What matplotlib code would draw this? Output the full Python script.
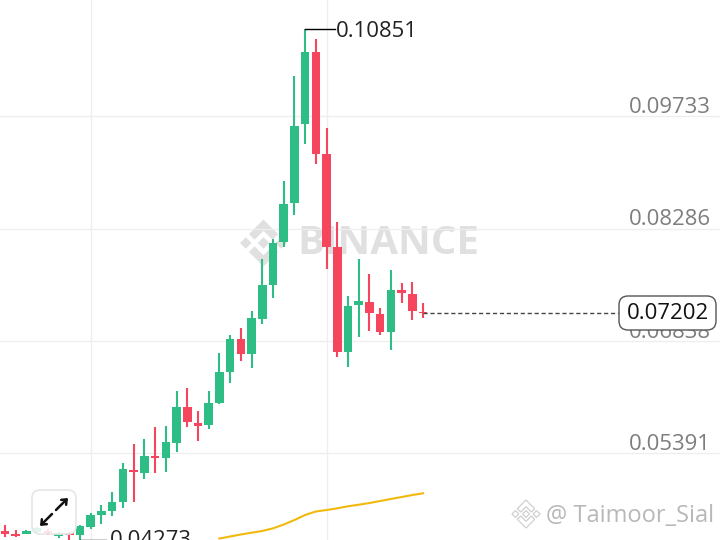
import matplotlib.pyplot as plt
import numpy as np
from matplotlib.patches import FancyBboxPatch, Polygon

plt.rcParams['font.family'] = ['Open Sans', 'DejaVu Sans']

# Candle values
opens = [0.04397, 0.04354, 0.04358, 0.04384, 0.04393, 0.04328, 0.04361, 0.04345, 0.04448, 0.04602,
         0.04650, 0.04770, 0.05178, 0.05143, 0.05354, 0.05332, 0.05529, 0.05985, 0.05787, 0.05757,
         0.06036, 0.06443, 0.06860, 0.06667, 0.07125, 0.07563, 0.08112, 0.08610, 0.09627, 0.10561,
         0.09241, 0.08048, 0.06696, 0.07297, 0.07344, 0.07189, 0.06950, 0.07498, 0.07443, 0.07215]
closes = [0.04354, 0.04328, 0.04393, 0.04431, 0.04367, 0.04367, 0.04341, 0.04457, 0.04605, 0.04654,
          0.04766, 0.05187, 0.05152, 0.05358, 0.05328, 0.05538, 0.05992, 0.05796, 0.05748, 0.06044,
          0.06443, 0.06860, 0.06675, 0.07130, 0.07563, 0.08095, 0.08601, 0.09609, 0.10561, 0.09241,
          0.08052, 0.06696, 0.07292, 0.07349, 0.07202, 0.06954, 0.07498, 0.07452, 0.07220, 0.07202]
highs = [0.04470, 0.04406, 0.04406, 0.04444, 0.04418, 0.04380, 0.04380, 0.04470, 0.04624, 0.04727,
         0.04898, 0.05272, 0.05512, 0.05573, 0.05727, 0.05744, 0.06198, 0.06233, 0.05933, 0.06194,
         0.06680, 0.06915, 0.07001, 0.07228, 0.07893, 0.08147, 0.08897, 0.10252, 0.10851, 0.10729,
         0.09583, 0.08366, 0.07417, 0.07893, 0.07700, 0.07259, 0.07748, 0.07581, 0.07593, 0.07323]
lows = [0.04315, 0.04315, 0.04350, 0.04367, 0.04341, 0.04303, 0.04277, 0.04273, 0.04418, 0.04483,
        0.04586, 0.04693, 0.04770, 0.05058, 0.05135, 0.05156, 0.05413, 0.05727, 0.05555, 0.05705,
        0.06027, 0.06294, 0.06581, 0.06487, 0.07053, 0.07388, 0.08052, 0.08460, 0.09370, 0.09116,
        0.07768, 0.06636, 0.06507, 0.06886, 0.06963, 0.06911, 0.06722, 0.07331, 0.07108, 0.07134]

# Moving average, starts at candle 20
ma_start = 20
ma_values = [0.04296, 0.04322, 0.04348, 0.04371, 0.04393, 0.04427, 0.04476, 0.04534, 0.04599, 0.04644,
             0.04663, 0.04685, 0.04711, 0.04731, 0.04753, 0.04779, 0.04805, 0.04830, 0.04856, 0.04878]

grid_prices = [0.09733, 0.08286, 0.06838, 0.05391]
grid_labels = ['0.09733', '0.08286', '0.06838', '0.05391']
grid_x = [8, 30]
last_price = 0.07202

GREEN = '#2ebd85'
RED = '#f6465d'
GRAY_TEXT = '#7d7d7d'
WATERMARK = '#e0e0e0'
LABEL_SIZE = 15.9


# Binance logo made of five pieces, cx/cy/r in pixels
def draw_logo(a, cx, cy, r, face, edge='none', lw=0):
    s = 0.245
    pieces = [
        [(0, s), (s, 0), (0, -s), (-s, 0)],
        [(-0.755, s), (-0.755 + s, 0), (-0.755, -s), (-0.755 - s, 0)],
        [(0.755, s), (0.755 + s, 0), (0.755, -s), (0.755 - s, 0)],
        [(0, 1), (0.62, 0.38), (0.38, 0.14), (0, 0.52), (-0.38, 0.14), (-0.62, 0.38)],
        [(0, -1), (0.62, -0.38), (0.38, -0.14), (0, -0.52), (-0.38, -0.14), (-0.62, -0.38)],
    ]
    for p in pieces:
        pts = [(cx + px * r, cy - py * r) for px, py in p]
        a.add_patch(Polygon(pts, closed=True, facecolor=face, edgecolor=edge, linewidth=lw))


fig = plt.figure(figsize=(7.2, 5.4), dpi=100, facecolor='white')

# layer behind the candles, in pixels
ax_bg = fig.add_axes([0, 0, 1, 1], zorder=0)
ax_bg.set_xlim(0, 720)
ax_bg.set_ylim(540, 0)
ax_bg.axis('off')

# main chart
ax = fig.add_axes([0, 0, 1, 1], zorder=1)
ax.patch.set_alpha(0)
ax.set_xlim(-0.466, 66.7)
ax.set_ylim(0.04277, 0.11227)
ax.axis('off')

# layer above the candles, in pixels
ax_fg = fig.add_axes([0, 0, 1, 1], zorder=2)
ax_fg.patch.set_alpha(0)
ax_fg.set_xlim(0, 720)
ax_fg.set_ylim(540, 0)
ax_fg.axis('off')

for p in grid_prices:
    ax.axhline(p, color='#eeeeee', linewidth=0.9, zorder=1)
for x in grid_x:
    ax.axvline(x, color='#eeeeee', linewidth=0.9, zorder=1)

# watermark
draw_logo(ax_bg, 263.5, 243, 23.5, WATERMARK)
ax_bg.text(297, 244, 'BINANCE', fontsize=29, fontweight='bold', color=WATERMARK,
           va='center', ha='left')

# candles
idx = np.arange(len(opens))
opens = np.array(opens)
closes = np.array(closes)
colors = [GREEN if c >= o else RED for o, c in zip(opens, closes)]
ax.vlines(idx, lows, highs, colors=colors, linewidth=1.5, zorder=3)
ax.bar(idx, np.abs(closes - opens), bottom=np.minimum(opens, closes), width=0.8, color=colors, zorder=4)

# moving average
ax.plot(idx[ma_start:], ma_values, color='#f0b90b', linewidth=1.5, solid_joinstyle='round', zorder=3)

# last price dashed line
ax.plot([idx[-1], 57.3], [last_price, last_price], color='#444444', linewidth=1, dashes=(3, 2), zorder=5)

# price labels on the right
for p, lab in zip(grid_prices, grid_labels):
    ax.annotate(lab, xy=(58.2, p), xytext=(0, -1.3), textcoords='offset points', fontsize=LABEL_SIZE,
                color=GRAY_TEXT, va='bottom', ha='left', zorder=5)

# high and low labels
ax.plot([28, 30.8], [max(highs), max(highs)], color='black', linewidth=1, zorder=5)
ax.annotate('0.10851', xy=(30.9, max(highs)), xytext=(0, -2), textcoords='offset points', fontsize=LABEL_SIZE,
            color='#222222', va='center', ha='left', zorder=6)
ax.plot([7, 9.4], [min(lows) + 0.00004, min(lows) + 0.00004], color='black', linewidth=1, zorder=5)
ax.text(9.8, min(lows), '0.04273', fontsize=LABEL_SIZE, color='#222222', va='center', ha='left', zorder=6,
        clip_on=False)

# current price box
ax_fg.add_patch(FancyBboxPatch((619, 296), 97, 34, boxstyle='round,pad=0,rounding_size=9',
                               facecolor='white', edgecolor='#555555', linewidth=1))
ax_fg.text(667.5, 313.5, '0.07202', fontsize=LABEL_SIZE, color='#111111', va='center', ha='center')

# expand button
ax_fg.add_patch(FancyBboxPatch((32, 490), 44, 44, boxstyle='round,pad=0,rounding_size=8',
                               facecolor=(1, 1, 1, 0.85), edgecolor='#e6e6e6', linewidth=1.2))
ax_fg.annotate('', xy=(68, 498), xytext=(56, 510),
               arrowprops=dict(arrowstyle='->,head_length=0.3,head_width=0.25', color='#111111', lw=1.8,
                               shrinkA=0, shrinkB=0))
ax_fg.annotate('', xy=(40, 526), xytext=(52, 514),
               arrowprops=dict(arrowstyle='->,head_length=0.3,head_width=0.25', color='#111111', lw=1.8,
                               shrinkA=0, shrinkB=0))

# corner credit
draw_logo(ax_fg, 526, 514, 14, 'white', edge='#cfcfcf', lw=0.9)
ax_fg.text(546, 516, '@ Taimoor_Sial', fontsize=17, color='#b8b8b8', va='center', ha='left')

plt.savefig('out.png', dpi=100)
